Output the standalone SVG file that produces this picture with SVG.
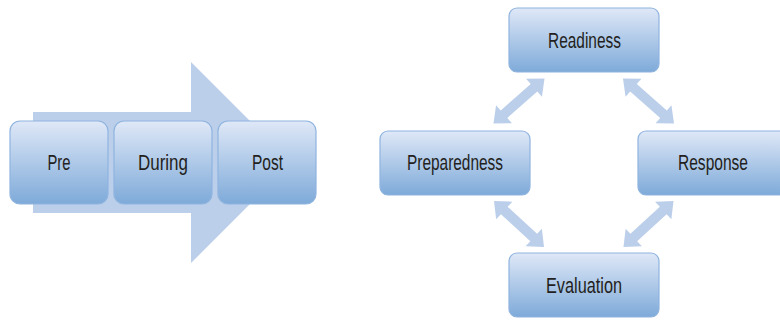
<svg xmlns="http://www.w3.org/2000/svg" width="780" height="321" viewBox="0 0 780 321">
<defs>
<linearGradient id="g" x1="0" y1="0" x2="0" y2="1">
<stop offset="0" stop-color="#dfe8f7"/>
<stop offset="1" stop-color="#7eaad9"/>
</linearGradient>
<path id="da" d="M-34,0 L-20,-12 L-20,-5 L20,-5 L20,-12 L34,0 L20,12 L20,5 L-20,5 L-20,12 Z"/>
<style>
.box{fill:url(#g);stroke:#8fb4df;stroke-width:1.2}
.t{font-family:"Liberation Sans",Arial,sans-serif;font-size:22px;fill:#231f20;text-anchor:middle}
.arr{fill:#bccfea}
</style>
</defs>
<g id="big-arrow">
<path class="arr" d="M33,112 L191,112 L191,62 L291.5,162.5 L191,263 L191,213 L33,213 Z"/>
</g>
<g id="connectors">
<use href="#da" class="arr" transform="translate(519,101) rotate(-41.35)"/>
<use href="#da" class="arr" transform="translate(648.5,101) rotate(41.35)"/>
<use href="#da" class="arr" transform="translate(519,224) rotate(42.6)"/>
<use href="#da" class="arr" transform="translate(648.5,224) rotate(-42.6)"/>
</g>
<g id="pre">
<rect class="box" x="10" y="121" width="98" height="83" rx="10"/>
<text class="t" x="59" y="170" textLength="23" lengthAdjust="spacingAndGlyphs">Pre</text>
</g>
<g id="during">
<rect class="box" x="114" y="121" width="98" height="83" rx="10"/>
<text class="t" x="163" y="170" textLength="50" lengthAdjust="spacingAndGlyphs">During</text>
</g>
<g id="post">
<rect class="box" x="218" y="121" width="98" height="83" rx="10"/>
<text class="t" x="267.5" y="170" textLength="31" lengthAdjust="spacingAndGlyphs">Post</text>
</g>
<g id="readiness">
<rect class="box" x="509" y="8" width="150" height="64" rx="8"/>
<text class="t" x="584.5" y="47.5" textLength="73" lengthAdjust="spacingAndGlyphs">Readiness</text>
</g>
<g id="preparedness">
<rect class="box" x="380" y="131" width="150" height="64" rx="8"/>
<text class="t" x="455" y="170" textLength="96" lengthAdjust="spacingAndGlyphs">Preparedness</text>
</g>
<g id="response">
<rect class="box" x="638" y="131" width="150" height="64" rx="8"/>
<text class="t" x="713" y="170" textLength="70" lengthAdjust="spacingAndGlyphs">Response</text>
</g>
<g id="evaluation">
<rect class="box" x="509" y="253" width="150" height="64" rx="8"/>
<text class="t" x="584" y="293" textLength="76" lengthAdjust="spacingAndGlyphs">Evaluation</text>
</g>
</svg>
